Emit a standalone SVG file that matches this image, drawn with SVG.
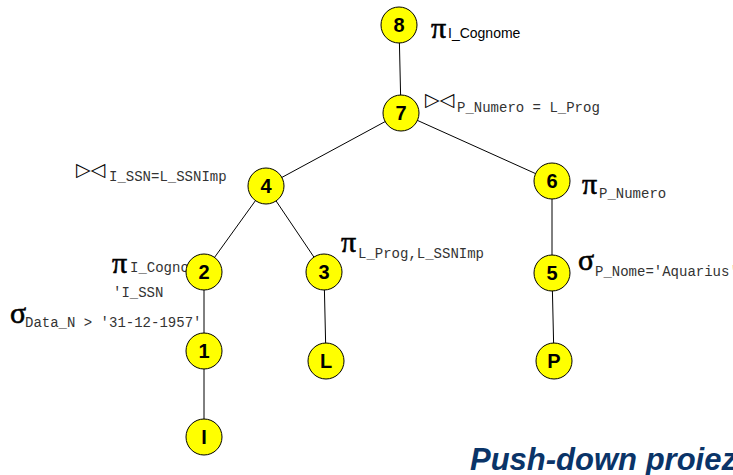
<svg xmlns="http://www.w3.org/2000/svg" width="733" height="475" viewBox="0 0 733 475">
<style>
.n circle{fill:#ffff00;stroke:#000;stroke-width:1}
.n text{font-family:"Liberation Sans",Arial,sans-serif;font-weight:bold;font-size:20px;text-anchor:middle;fill:#000}
.e line{stroke:#000;stroke-width:1}
.op{font-family:"Liberation Serif","Times New Roman",serif;font-size:30px;fill:#000;stroke:#000;stroke-width:0.6}
.bt{font-family:"DejaVu Sans",sans-serif;font-size:19px;fill:#000}
.sub{font-family:"Liberation Mono","Courier New",monospace;font-size:14px;fill:#333}
.subs{font-family:"Liberation Sans",Arial,sans-serif;font-size:14px;fill:#000}
.title{font-family:"Liberation Sans",Arial,sans-serif;font-weight:bold;font-style:italic;font-size:31px;fill:#0a3468}
</style>
<rect width="733" height="475" fill="#fff"/>
<g id="connectors" class="e">
<line x1="399" y1="25" x2="401" y2="113"/>
<line x1="401" y1="113" x2="266" y2="186"/>
<line x1="401" y1="113" x2="552" y2="181"/>
<line x1="266" y1="186" x2="204" y2="272"/>
<line x1="266" y1="186" x2="324" y2="272"/>
<line x1="204" y1="272" x2="204" y2="351"/>
<line x1="204" y1="351" x2="204" y2="437"/>
<line x1="324" y1="272" x2="326" y2="360"/>
<line x1="552" y1="181" x2="552" y2="273"/>
<line x1="552" y1="273" x2="554" y2="361"/>
</g>
<g id="labels">
<text class="op" x="431" y="38">π</text><text class="subs" x="448" y="38">I_Cognome</text>
<text class="bt" x="425" y="106">▷◁</text><text class="sub" x="457" y="112">P_Numero = L_Prog</text>
<text class="bt" x="76" y="176">▷◁</text><text class="sub" x="109" y="181">I_SSN=L_SSNImp</text>
<text class="op" x="582" y="194">π</text><text class="sub" x="599" y="198">P_Numero</text>
<text class="op" x="578" y="270">σ</text><text class="sub" x="595" y="276">P_Nome='Aquarius'</text>
<text class="op" x="341" y="252">π</text><text class="sub" x="358" y="258">L_Prog,L_SSNImp</text>
<text class="op" x="112" y="273">π</text><text class="sub" x="130" y="272">I_Cognome</text>
<text class="sub" x="113" y="297">'I_SSN</text>
<text class="op" x="10" y="323">σ</text><text class="sub" x="25" y="327">Data_N &gt; '31-12-1957'</text>
</g>
<g id="node8" class="n"><circle cx="399" cy="25" r="18"/><text x="399" y="32">8</text></g>
<g id="node7" class="n"><circle cx="401" cy="113" r="18"/><text x="401" y="120">7</text></g>
<g id="node4" class="n"><circle cx="266" cy="186" r="18"/><text x="266" y="193">4</text></g>
<g id="node6" class="n"><circle cx="552" cy="181" r="18"/><text x="552" y="188">6</text></g>
<g id="node2" class="n"><circle cx="204" cy="272" r="18"/><text x="204" y="279">2</text></g>
<g id="node3" class="n"><circle cx="324" cy="272" r="18"/><text x="324" y="279">3</text></g>
<g id="node5" class="n"><circle cx="552" cy="273" r="18"/><text x="552" y="280">5</text></g>
<g id="node1" class="n"><circle cx="204" cy="351" r="18"/><text x="204" y="358">1</text></g>
<g id="nodeL" class="n"><circle cx="326" cy="361" r="18"/><text x="326" y="368">L</text></g>
<g id="nodeP" class="n"><circle cx="554" cy="361" r="18"/><text x="554" y="368">P</text></g>
<g id="nodeI" class="n"><circle cx="204" cy="437" r="18"/><text x="204" y="444">I</text></g>
<text class="title" x="470" y="470">Push-down proiez</text>
</svg>
